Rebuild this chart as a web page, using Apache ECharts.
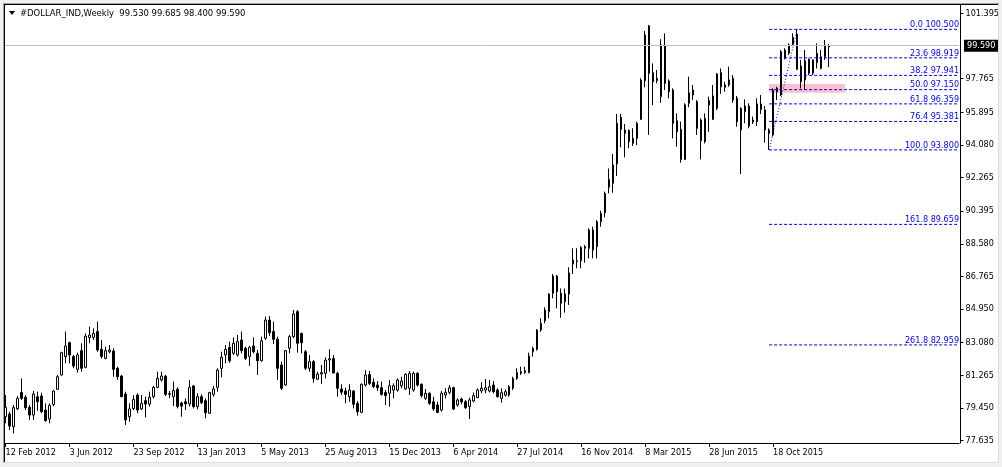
<!DOCTYPE html>
<html><head><meta charset="utf-8">
<script src="https://cdn.jsdelivr.net/npm/echarts@6/dist/echarts.min.js"></script>
<style>html,body{margin:0;padding:0;background:#f0f0f0}#c{width:1002px;height:467px}</style>
</head><body><div id="c"></div>
<script>
// Weekly OHLC, 12 Feb 2012 .. 24 Jan 2016
const opens = [78.97,79.12,78.41,79.40,80.32,80.05,79.49,79.06,80.08,80.12,79.34,78.84,79.65,80.49,81.29,82.31,83.08,82.31,81.60,82.64,
81.71,83.36,83.38,83.70,82.71,82.21,82.58,82.62,81.66,81.23,80.23,78.97,79.42,80.17,79.40,79.86,79.67,80.08,80.60,81.01,
81.23,80.21,80.08,80.49,79.73,79.80,79.68,80.68,79.53,80.08,79.86,79.16,80.21,80.60,81.66,82.40,82.82,82.49,82.40,83.23,
82.77,82.31,82.90,82.49,82.08,83.33,84.34,83.70,83.27,81.84,80.73,82.77,83.42,84.81,83.60,82.58,81.66,82.03,81.05,81.34,
81.38,82.12,82.20,81.38,80.51,80.40,80.08,80.40,79.71,79.21,80.73,81.32,80.88,80.73,80.58,80.32,80.27,80.45,80.45,80.69,
80.51,80.55,80.45,81.38,80.77,79.99,80.27,79.80,79.62,79.34,80.18,80.32,80.58,79.62,79.95,79.80,79.53,79.84,80.03,80.40,
80.45,80.40,80.73,80.45,79.99,80.17,80.17,80.55,81.10,81.38,81.42,81.42,82.58,82.71,83.79,84.30,84.81,85.83,86.79,85.83,
85.36,85.79,87.46,87.59,87.64,88.33,88.33,89.35,88.42,89.81,90.31,91.72,91.94,93.02,95.61,94.90,94.87,94.16,94.44,95.50,
97.65,100.69,98.09,97.65,96.76,99.57,97.63,97.13,95.42,94.94,93.27,96.39,97.13,96.48,95.46,94.26,96.54,95.50,96.11,98.09,
97.41,97.41,97.78,96.67,94.91,95.92,96.24,95.35,95.37,96.35,96.02,94.91,94.63,97.22,96.85,99.35,99.17,99.69,100.24,98.46,
97.69,98.83,98.06,98.65,98.33,98.98,99.53];
const highs = [80.17,79.25,79.62,80.12,81.10,80.17,79.62,80.40,80.36,80.30,79.71,79.71,80.45,81.29,82.58,83.70,83.14,82.40,82.53,83.05,
83.60,83.97,83.88,84.25,83.23,82.86,82.95,82.77,81.75,81.29,80.36,79.71,80.17,80.27,80.17,80.08,80.36,80.68,81.47,81.47,
81.29,80.40,80.92,80.60,79.80,79.99,81.01,80.73,80.27,80.21,79.99,80.36,80.68,81.66,82.58,82.95,83.14,83.38,83.51,83.70,
82.86,82.90,83.38,82.68,83.42,84.53,84.57,84.25,83.42,82.03,82.68,83.51,84.90,84.90,83.64,82.68,82.40,82.12,81.47,81.84,
82.27,82.71,82.40,81.47,80.77,80.58,80.77,80.45,79.84,80.82,81.56,81.51,81.10,80.95,80.92,80.45,81.01,80.82,81.10,81.19,
81.38,81.51,81.47,81.44,80.82,80.51,80.32,80.08,79.80,80.40,80.55,80.73,80.64,79.99,80.03,79.90,80.03,80.32,80.55,80.88,
81.07,81.01,80.95,80.55,80.54,80.49,80.73,81.19,81.66,81.75,81.75,82.53,82.86,83.83,84.44,85.05,85.83,86.90,86.84,86.10,
86.10,87.27,88.33,88.33,88.46,88.51,89.44,89.53,89.90,90.42,91.48,92.77,93.57,95.80,95.80,95.24,94.94,95.00,95.37,97.78,
100.41,100.74,98.61,98.24,99.95,100.28,97.72,97.22,95.83,95.37,96.39,97.87,97.41,96.57,95.55,95.83,96.76,97.41,98.06,98.33,
97.59,98.43,97.96,96.80,96.17,96.61,96.39,95.65,96.67,96.85,96.24,95.00,97.22,97.31,99.35,99.45,99.72,100.28,100.50,98.80,
99.35,98.89,98.83,99.72,99.35,99.91,99.685];
const lows = [78.60,78.23,78.04,79.34,79.90,79.34,78.79,78.79,79.30,79.16,78.69,78.60,79.55,80.45,81.25,81.94,81.94,81.66,81.42,81.47,
81.66,83.05,83.23,82.58,82.21,82.16,82.49,81.19,81.01,80.05,78.51,78.69,79.34,79.16,79.34,78.93,79.53,79.99,80.55,80.92,
80.12,80.00,79.56,79.43,78.97,79.34,79.53,79.43,79.38,79.67,78.88,79.12,80.08,80.36,81.16,81.93,81.97,82.40,82.31,82.49,
82.12,81.79,82.49,81.29,82.03,83.23,83.45,83.01,81.01,80.45,80.68,82.49,83.33,82.53,82.49,81.56,81.47,80.86,81.01,80.79,
81.10,81.47,81.38,80.08,80.18,79.71,79.80,79.43,79.03,79.16,80.64,80.73,80.55,80.40,80.14,79.62,79.53,79.99,80.36,80.55,
80.45,80.18,80.36,80.64,80.03,79.90,79.62,79.29,79.16,79.25,79.99,80.21,79.34,79.53,79.66,79.40,78.84,79.77,80.03,80.27,
80.27,80.32,80.27,80.03,79.75,80.08,80.08,80.45,81.01,81.29,81.34,81.38,82.31,82.64,83.69,84.16,84.44,85.55,84.99,84.47,
84.75,85.18,86.90,87.22,87.22,87.53,87.77,87.77,87.77,89.53,90.05,91.38,91.42,92.35,93.94,93.39,93.89,94.02,94.07,95.46,
97.28,94.63,96.29,97.50,96.42,97.13,96.67,94.44,93.98,93.09,93.24,96.17,96.57,94.63,93.27,94.16,94.81,95.46,96.02,96.91,
97.04,97.31,96.42,95.09,92.46,95.28,95.00,95.24,95.13,95.79,94.20,93.80,94.54,96.57,96.80,98.83,99.08,99.63,98.24,97.22,
97.13,97.96,97.96,98.33,98.28,98.80,98.40];
const closes = [79.49,78.45,79.47,79.99,79.99,79.47,79.06,80.23,79.80,79.25,78.75,79.60,80.40,81.19,82.53,82.90,82.40,81.79,82.40,81.66,
83.45,83.51,83.60,82.68,82.31,82.64,82.68,81.60,81.19,80.08,78.79,79.40,79.93,79.34,79.71,79.67,80.05,80.60,81.10,81.23,
80.21,80.25,80.42,79.53,79.56,79.68,80.60,79.53,80.08,79.75,79.19,80.31,80.51,81.56,82.27,82.71,82.08,83.05,83.14,82.64,
82.21,82.82,82.58,82.08,83.19,84.34,83.64,83.27,81.66,80.55,82.64,83.42,84.68,83.05,83.08,81.66,82.03,81.10,81.34,81.42,
82.12,82.19,81.40,80.55,80.33,80.21,80.45,79.66,79.25,80.77,81.29,80.82,80.64,80.58,80.21,80.14,80.69,80.69,81.01,80.95,
81.32,81.38,81.38,80.73,80.14,80.27,79.71,79.40,79.21,80.27,80.32,80.58,79.40,79.90,79.80,79.47,79.90,80.14,80.45,80.55,
80.58,80.64,80.36,80.08,80.30,80.36,80.64,81.10,81.42,81.47,81.53,82.34,82.77,83.79,84.16,84.90,85.79,86.79,85.92,85.27,
85.79,86.97,87.68,87.64,88.38,88.42,89.35,88.24,89.81,90.27,91.38,92.16,92.96,95.28,94.94,94.72,94.26,94.44,95.28,97.68,
100.19,98.06,97.59,97.78,99.63,97.50,97.04,95.28,94.81,93.27,96.30,96.98,96.85,95.00,94.31,95.55,96.30,96.80,98.02,97.31,
97.28,97.69,96.57,95.37,96.11,96.24,95.13,95.46,96.35,96.05,94.91,94.72,97.13,97.04,99.26,98.89,99.63,100.06,98.28,97.59,
98.76,98.06,98.80,99.17,98.98,99.63,99.59];

const dateTickLabels = ['12 Feb 2012','3 Jun 2012','23 Sep 2012','13 Jan 2013','5 May 2013','25 Aug 2013','15 Dec 2013',
  '6 Apr 2014','27 Jul 2014','16 Nov 2014','8 Mar 2015','28 Jun 2015','18 Oct 2015'];
const priceTickLabels = [101.395,97.765,95.895,94.080,92.265,90.395,88.580,86.765,84.950,83.080,81.265,79.450,77.635];
const fibRatios = ['0.0','23.6','38.2','50.0','61.8','76.4','100.0','161.8','261.8'];
const fibValues = [100.500,98.919,97.941,97.150,96.359,95.381,93.800,89.659,82.959];
const fibStartIndex = 191, fibHighIndex = 198;
const zoneBox = {from: 191, to: 210, top: 97.46, bottom: 96.97};
const headerText = '#DOLLAR_IND,Weekly  99.530 99.685 98.400 99.590';
const lastPrice = 99.59;

const SLOTS = 239, TICK_EVERY = 16;
const Y_MIN = 77.507, Y_MAX = 101.91;
const FONT = '"DejaVu Sans Condensed", "DejaVu Sans", sans-serif';

const cats = [];
for (let i = 0; i < SLOTS; i++) cats.push(String(i));
const tickFn = (idx) => idx % TICK_EVERY === 0 && idx / TICK_EVERY < dateTickLabels.length;
const candles = opens.map((o, i) => [o, closes[i], lows[i], highs[i]]);

const fibSeries = fibValues.map((v, k) => ({
  type: 'line', silent: true, symbol: 'none', z: 4,
  data: [[fibStartIndex, v], [SLOTS - 1, v]],
  lineStyle: {color: '#0000ff', width: 1, type: [3, 2]},
  endLabel: {show: true, formatter: fibRatios[k] + ' ' + v.toFixed(3), color: '#0000ff',
    fontSize: 9, fontFamily: FONT, align: 'right', verticalAlign: 'bottom', distance: 0, offset: [2, 0]}
}));

const chart = echarts.init(document.getElementById('c'), null, {renderer: 'canvas', width: 1002, height: 467});
chart.setOption({
  animation: false,
  backgroundColor: '#ffffff',
  grid: {left: 3.5, top: 4, width: 4 * SLOTS, bottom: 24, containLabel: false},
  xAxis: {
    type: 'category', data: cats, boundaryGap: true,
    axisLine: {show: true, lineStyle: {color: '#000', width: 1}},
    axisTick: {show: true, interval: tickFn, alignWithLabel: true, length: 4, lineStyle: {color: '#000'}},
    axisLabel: {interval: tickFn, formatter: (v, idx) => dateTickLabels[idx / TICK_EVERY] || '',
      align: 'left', margin: 5, color: '#000', fontSize: 9, fontFamily: FONT},
    splitLine: {show: false}
  },
  yAxis: {
    type: 'value', position: 'right', min: Y_MIN, max: Y_MAX, offset: 1.5, scale: true,
    axisLine: {show: true, lineStyle: {color: '#000', width: 1}},
    axisTick: {show: true, length: 3, inside: false, customValues: priceTickLabels, lineStyle: {color: '#000'}},
    axisLabel: {customValues: priceTickLabels, formatter: v => v.toFixed(3), margin: 5,
      color: '#000', fontSize: 9, fontFamily: FONT},
    splitLine: {show: false}
  },
  graphic: [
    {type: 'rect', shape: {x: 0, y: 0, width: 1002, height: 4}, style: {fill: '#f0f0f0'}, z: 100},
    {type: 'rect', shape: {x: 0, y: 0, width: 4, height: 467}, style: {fill: '#f0f0f0'}, z: 100},
    {type: 'rect', shape: {x: 999, y: 0, width: 3, height: 467}, style: {fill: '#f0f0f0'}, z: 100},
    {type: 'rect', shape: {x: 0, y: 463, width: 1002, height: 4}, style: {fill: '#f0f0f0'}, z: 100},
    {type: 'rect', shape: {x: 3, y: 3, width: 996, height: 1}, style: {fill: '#a0a0a0'}, z: 101},
    {type: 'rect', shape: {x: 3, y: 3, width: 1, height: 460}, style: {fill: '#a0a0a0'}, z: 101},
    {type: 'rect', shape: {x: 4, y: 4, width: 995, height: 1}, style: {fill: '#000'}, z: 101},
    {type: 'rect', shape: {x: 4, y: 4, width: 1, height: 459}, style: {fill: '#000'}, z: 101},
    {type: 'rect', shape: {x: 4, y: 462, width: 995, height: 1}, style: {fill: '#dcdcdc'}, z: 101},
    {type: 'rect', shape: {x: 998, y: 4, width: 1, height: 459}, style: {fill: '#dcdcdc'}, z: 101},
    {type: 'polygon', shape: {points: [[9, 11], [15, 11], [12, 15]]}, style: {fill: '#000'}, z: 102},
    {type: 'text', x: 20, y: 13.5, z: 102,
      style: {text: headerText, fill: '#000', fontSize: 9.4, fontFamily: FONT, verticalAlign: 'middle'}}
  ],
  series: [
    {
      type: 'candlestick', data: candles, barWidth: 2, z: 3, silent: true,
      itemStyle: {color: '#ffffff', color0: '#000000', borderColor: '#000000', borderColor0: '#000000', borderWidth: 1},
      markArea: {silent: true, itemStyle: {color: '#ffc0cb'},
        data: [[{xAxis: zoneBox.from, yAxis: zoneBox.top}, {xAxis: zoneBox.to, yAxis: zoneBox.bottom}]]},
      markLine: {silent: true, symbol: 'none', animation: false,
        lineStyle: {color: '#c0c0c0', type: 'solid', width: 1},
        label: {show: true, position: 'end', formatter: lastPrice.toFixed(3), backgroundColor: '#000', color: '#fff',
          fontSize: 9, fontFamily: FONT, padding: [2, 4, 1, 3], distance: 5},
        data: [{yAxis: lastPrice}]}
    },
    {
      type: 'line', silent: true, symbol: 'none', z: 4,
      data: [[fibStartIndex, fibValues[6]], [fibHighIndex, fibValues[0]]],
      lineStyle: {color: '#0000ff', width: 1, type: [1, 2]}
    },
    ...fibSeries
  ]
});
</script>
</body></html>
